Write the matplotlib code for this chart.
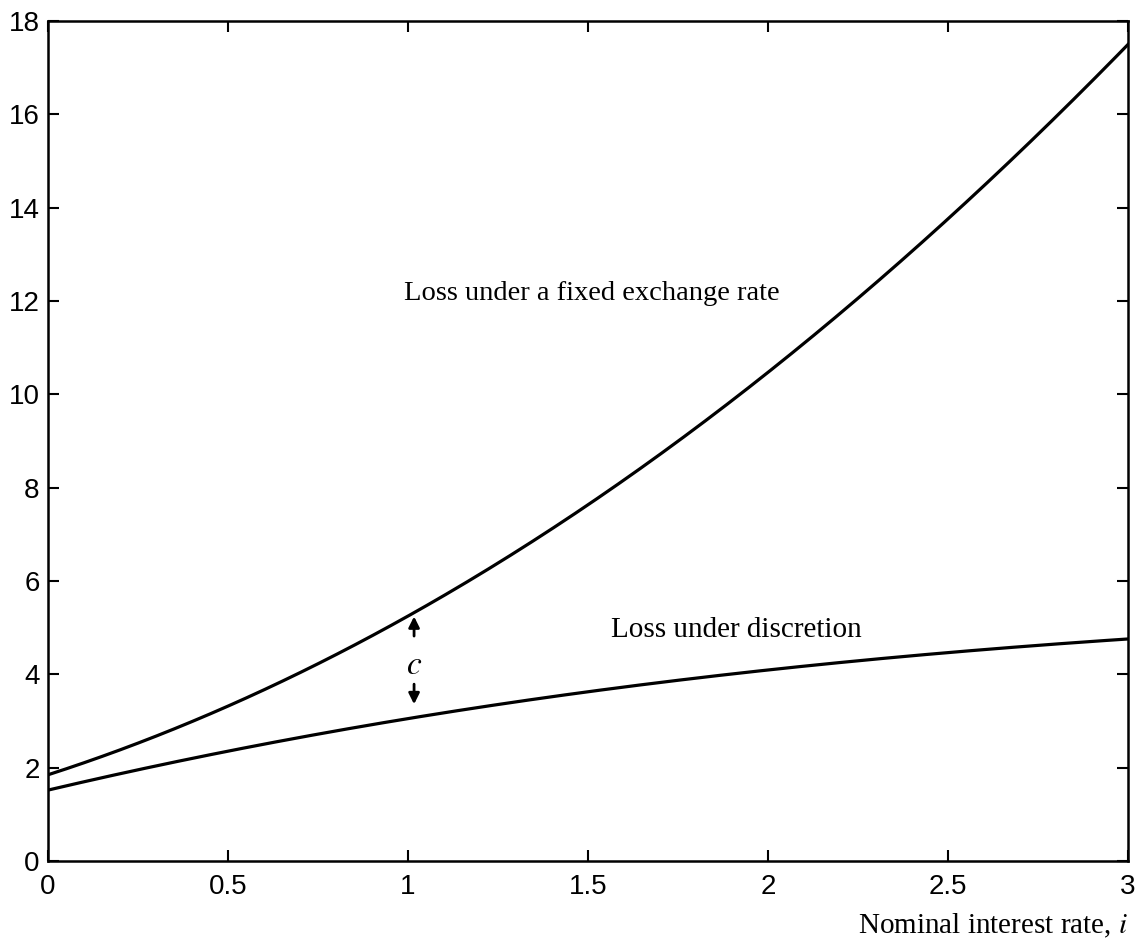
import numpy as np
import matplotlib.pyplot as plt

# значения
rate = [0.0, 0.25, 0.5, 0.75, 1.0, 1.25, 1.5, 1.75, 2.0, 2.25, 2.5, 2.75, 3.0]
loss_fixed = [1.85, 2.52, 3.30, 4.22, 5.30, 6.42, 7.62, 8.95, 10.40, 12.05, 13.85, 15.60, 17.45]
loss_discr = [1.52, 1.95, 2.36, 2.72, 3.05, 3.35, 3.62, 3.88, 4.10, 4.29, 4.46, 4.62, 4.76]

xticks = [0, 0.5, 1, 1.5, 2, 2.5, 3]
xticklabels = ["0", "0.5", "1", "1.5", "2", "2.5", "3"]
yticks = [0, 2, 4, 6, 8, 10, 12, 14, 16, 18]

plt.rcParams["font.family"] = ["Liberation Sans", "DejaVu Sans"]
plt.rcParams["mathtext.fontset"] = "stix"

fig = plt.figure(figsize=(11.41, 9.51), dpi=100)
ax = fig.add_axes([0.042, 0.0946, 0.9466, 0.8834])

# гладкие кривые через точки
xs = np.linspace(0, 3, 300)
cf = np.polyfit(rate, loss_fixed, 3)
cd = np.polyfit(rate, loss_discr, 3)
ax.plot(xs, np.polyval(cf, xs), color="black", lw=2.3)
ax.plot(xs, np.polyval(cd, xs), color="black", lw=2.3)

ax.set_xlim(0, 3)
ax.set_ylim(0, 18)
ax.set_xticks(xticks)
ax.set_xticklabels(xticklabels)
ax.set_yticks(yticks)
ax.tick_params(direction="in", length=8, width=1.5, labelsize=20,
               top=True, right=True, pad=6)
ax.tick_params(axis="x", pad=9)
for s in ax.spines.values():
    s.set_linewidth(1.8)

serif = ["Liberation Serif", "DejaVu Serif"]
ax.text(0.99, 12.15, "Loss under a fixed exchange rate", family=serif,
        fontsize=20.5, va="center", ha="left")
ax.text(1.565, 4.95, "Loss under discretion", family=serif,
        fontsize=21, va="center", ha="left")
ax.text(1.017, 4.2, "$c$", fontsize=24, va="center", ha="center")
arrow = dict(arrowstyle="-|>", color="black", lw=2, mutation_scale=16,
             shrinkA=0, shrinkB=0)
ax.annotate("", xy=(1.017, 5.24), xytext=(1.017, 4.82), arrowprops=arrow)
ax.annotate("", xy=(1.017, 3.36), xytext=(1.017, 3.79), arrowprops=arrow)

fig.text(0.9886, 0.026, "Nominal interest rate, $i$", family=serif,
         fontsize=21, ha="right", va="center")

plt.savefig("out.png", dpi=100)
